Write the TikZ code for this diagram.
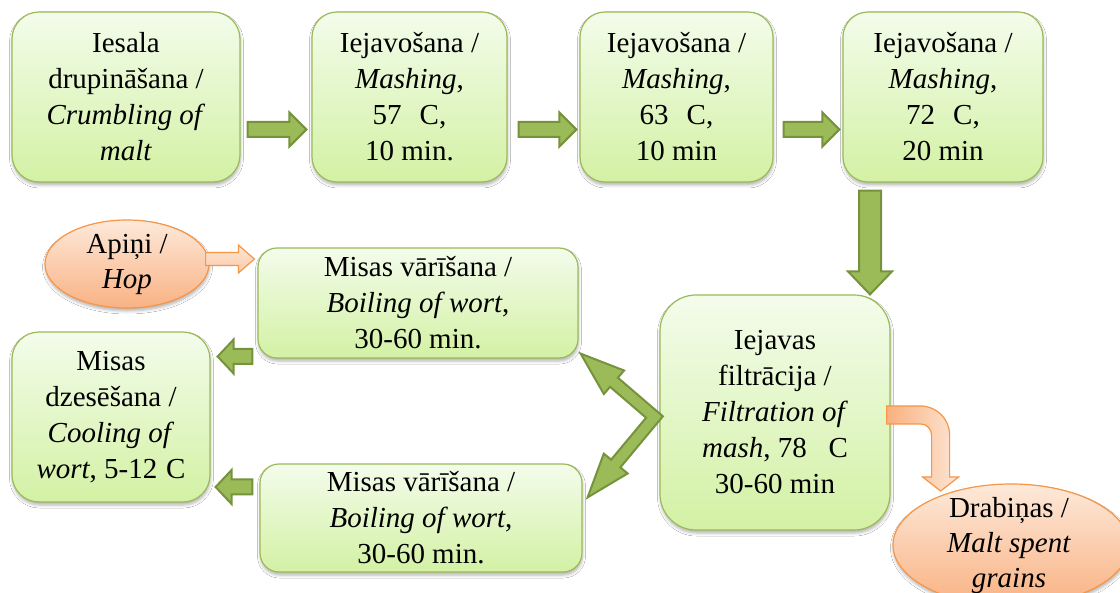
\documentclass[tikz,border=0pt]{standalone}
\usepackage{fontspec}
\setmainfont{Liberation Serif}
\usetikzlibrary{calc,shapes.geometric,shadows.blur}

\definecolor{boxtop}{HTML}{F3FCEB}
\definecolor{boxbot}{HTML}{D3F1A4}
\definecolor{boxline}{HTML}{9BBB59}
\definecolor{arrfill}{HTML}{9BBB59}
\definecolor{arrline}{HTML}{76923C}
\definecolor{ovtop}{HTML}{FDE9DA}
\definecolor{ovbot}{HTML}{F9B283}
\definecolor{ovline}{HTML}{F79646}
\definecolor{peachdark}{HTML}{F9B07F}
\definecolor{peachlight}{HTML}{FDE6D5}

\tikzset{
  txt/.style={font=\fontsize{29}{36}\selectfont, align=center, text=black, inner sep=0pt},
  stepbox/.style={txt, draw=boxline, line width=1.2pt, top color=boxtop, bottom color=boxbot,
    rounded corners=#1,
    blur shadow={shadow xshift=0.5pt, shadow yshift=-3pt, shadow blur radius=3pt, shadow opacity=30}},
  stepbox/.default=27pt,
  oval/.style={ellipse, draw=ovline, line width=1.2pt, top color=ovtop, bottom color=ovbot, inner sep=0pt,
    blur shadow={shadow xshift=0.5pt, shadow yshift=-3pt, shadow blur radius=3pt, shadow opacity=30}},
  greenarrow/.style={draw=arrline, fill=arrfill, line width=2pt, line join=miter},
  hoparrow/.style={draw=ovline, line width=1.2pt, top color=peachlight, bottom color=ovbot!70!white, line join=miter},
  curvarrow/.style={draw=ovline, line width=1.2pt, left color=peachdark, right color=peachlight, line join=miter},
}

% block arrow: #1 style, #2 tail, #3 tip, #4 shaft half width, #5 head half width, #6 head length
\newcommand\blockarrow[6]{%
  \coordinate (ba-h) at ($(#3)!#6!(#2)$);
  \draw[#1] ($(#2)!#4!90:(#3)$) -- ($(ba-h)!#4!-90:(#2)$) -- ($(ba-h)!#5!-90:(#2)$) -- (#3)
    -- ($(ba-h)!#5!90:(#2)$) -- ($(ba-h)!#4!90:(#2)$) -- ($(#2)!#4!-90:(#3)$) -- cycle;
}

\begin{document}
\begin{tikzpicture}[x=1pt,y=-1pt]
\useasboundingbox (0,0) rectangle (1120,593);
\fill[white] (0,0) rectangle (1120,593);
\clip (0,0) rectangle (1120,593);

% process steps
\node[stepbox, minimum width=228pt, minimum height=170pt] (b1) at (126,97)
  {Iesala\\drupināšana /\\\textit{Crumbling of}\\\textit{malt}};
\node[stepbox=25pt, minimum width=195pt, minimum height=170pt] (b2) at (409.5,97)
  {Iejavošana /\\\textit{Mashing},\\57\hspace{0.62em}C,\\10 min.};
\node[stepbox=25pt, minimum width=193pt, minimum height=170pt] (b3) at (676.5,97)
  {Iejavošana /\\\textit{Mashing},\\63\hspace{0.62em}C,\\10 min};
\node[stepbox=25pt, minimum width=200pt, minimum height=170pt] (b4) at (943,97)
  {Iejavošana /\\\textit{Mashing},\\72\hspace{0.62em}C,\\20 min};
\node[stepbox=36pt, minimum width=230pt, minimum height=235pt] (filt) at (775,412.5)
  {Iejavas\\filtrācija /\\\textit{Filtration of}\\\textit{mash}, 78\hspace{0.75em}C\\30-60 min};
\node[stepbox=19pt, minimum width=320pt, minimum height=110pt] (boiltop) at (418,303)
  {Misas vārīšana /\\\textit{Boiling of wort},\\30-60 min.};
\node[stepbox=19pt, minimum width=322pt, minimum height=108pt] (boilbot) at (421,518)
  {Misas vārīšana /\\\textit{Boiling of wort},\\30-60 min.};
\node[stepbox, minimum width=198pt, minimum height=170pt] (cool) at (111,417)
  {Misas\\dzesēšana /\\\textit{Cooling of}\\\textit{wort}, 5-12\hspace{0.3em}C};

% inputs and outputs
\node[oval, minimum width=164pt, minimum height=88pt] (hop) at (127,264) {};
\node[txt, font=\fontsize{29}{35}\selectfont] at (hop.center) {Apiņi /\\\textit{Hop}};
\node[oval, minimum width=236pt, minimum height=122pt] (drab) at (1011,545) {};
\node[txt, font=\fontsize{29}{35}\selectfont] at ($(drab.center)+(-2,1)$) {Drabiņas /\\\textit{Malt spent}\\\textit{grains}};

% arrow end points
\coordinate (a1s) at ($(b1.east)+(7,32.5)$);
\coordinate (a1e) at ($(b2.west)+(-5,32.5)$);
\coordinate (a2s) at ($(b2.east)+(11,32.5)$);
\coordinate (a2e) at ($(b3.west)+(-3,32.5)$);
\coordinate (a3s) at ($(b3.east)+(10,32.5)$);
\coordinate (a3e) at ($(b4.west)+(-3,32.5)$);
\coordinate (ds) at ($(b4.south)+(-73,8)$);
\coordinate (de) at ($(filt.north)+(95,0)$);
\coordinate (l1s) at ($(boiltop.west)+(-5,53.5)$);
\coordinate (l1e) at ($(cool.east)+(7,-60.5)$);
\coordinate (l2s) at ($(boilbot.west)+(-7,-31)$);
\coordinate (l2e) at ($(cool.east)+(5,70)$);
\coordinate (hs) at ($(hop.east)+(-4,-5)$);
\coordinate (he) at ($(boiltop.west)+(-3,-44)$);

% straight block arrows
\blockarrow{greenarrow}{a1s}{a1e}{7.5pt}{17pt}{17pt}
\blockarrow{greenarrow}{a2s}{a2e}{7.5pt}{17pt}{17pt}
\blockarrow{greenarrow}{a3s}{a3e}{7.5pt}{17pt}{17pt}
\blockarrow{greenarrow}{ds}{de}{11pt}{22pt}{23pt}
\blockarrow{greenarrow}{l1s}{l1e}{7.5pt}{17pt}{16pt}
\blockarrow{greenarrow}{l2s}{l2e}{7.5pt}{17pt}{16pt}
\blockarrow{hoparrow}{hs}{he}{6.5pt}{14pt}{16pt}

% bent double arrow from filtration to both boiling steps
\coordinate (V) at ($(filt.west)+(-5,4.5)$);
\coordinate (T1) at ($(boiltop.south east)+(2,-5)$);
\coordinate (T2) at ($(boilbot.north east)+(5,34)$);
\coordinate (H1) at ($(T1)!44pt!(V)$);
\coordinate (H2) at ($(T2)!44pt!(V)$);
\coordinate (o1a) at ($(H1)!6pt!90:(V)$);
\coordinate (o1b) at ($(V)!6pt!-90:(H1)$);
\coordinate (i1a) at ($(H1)!6pt!-90:(V)$);
\coordinate (i1b) at ($(V)!6pt!90:(H1)$);
\coordinate (o2a) at ($(H2)!6pt!-90:(V)$);
\coordinate (o2b) at ($(V)!6pt!90:(H2)$);
\coordinate (i2a) at ($(H2)!6pt!90:(V)$);
\coordinate (i2b) at ($(V)!6pt!-90:(H2)$);
\coordinate (vo) at (intersection of o1a--o1b and o2a--o2b);
\coordinate (vi) at (intersection of i1a--i1b and i2a--i2b);
\draw[greenarrow] (T1) -- ($(H1)!15.5pt!90:(V)$) -- (o1a) -- (vo) -- (o2a) -- ($(H2)!15.5pt!-90:(V)$)
  -- (T2) -- ($(H2)!15.5pt!90:(V)$) -- (i2a) -- (vi) -- (i1a) -- ($(H1)!15.5pt!-90:(V)$) -- cycle;

% curved arrow from filtration to spent grains
\coordinate (c0) at ($(filt.east)+(-4,2.5)$);
\draw[curvarrow] ($(c0)+(0,-9)$) -- ++(34,0) arc[start angle=-90,end angle=0,radius=29]
  -- ++(0,42) -- ++(9,0) -- ++(-18,14) -- ++(-18,-14) -- ++(9,0) -- ++(0,-42)
  arc[start angle=0,end angle=-90,radius=11] -- ++(-34,0) -- cycle;
\end{tikzpicture}
\end{document}
